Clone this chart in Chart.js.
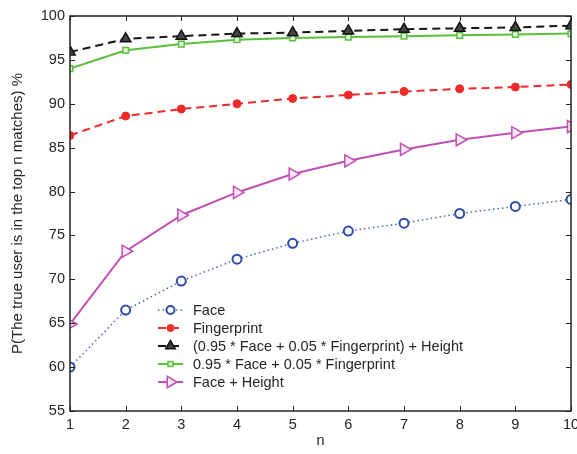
<!DOCTYPE html>
<html>
<head>
<meta charset="utf-8">
<script src="https://cdn.jsdelivr.net/npm/chart.js@4.4.1/dist/chart.umd.min.js"></script>
<style>
  html, body { margin: 0; padding: 0; background: #fff; overflow: hidden; }
  #wrap { width: 600px; height: 454px; }
</style>
</head>
<body>
<div id="wrap"><canvas id="chart" width="600" height="454"></canvas></div>
<script>
const nValues = [1, 2, 3, 4, 5, 6, 7, 8, 9, 10];
const face = [60.0, 66.5, 69.8, 72.3, 74.1, 75.5, 76.4, 77.5, 78.3, 79.1];
const fingerprint = [86.4, 88.6, 89.4, 90.0, 90.6, 91.0, 91.4, 91.7, 91.9, 92.2];
const fusionHeight = [95.9, 97.4, 97.7, 98.0, 98.1, 98.3, 98.5, 98.6, 98.7, 98.9];
const fusion = [94.0, 96.1, 96.8, 97.3, 97.5, 97.6, 97.7, 97.8, 97.9, 98.0];
const faceHeight = [64.9, 73.2, 77.3, 79.9, 82.0, 83.5, 84.8, 85.9, 86.7, 87.4];
const seriesNames = [
  'Face',
  'Fingerprint',
  '(0.95 * Face + 0.05 * Fingerprint) + Height',
  '0.95 * Face + 0.05 * Fingerprint',
  'Face + Height'
];

const FONT = '"Liberation Sans", Arial, Helvetica, sans-serif';
const TEXT = '#262626';

function pts(values) {
  return values.map((v, i) => ({ x: nValues[i], y: v }));
}

const datasets = [
  {
    label: seriesNames[0], data: pts(face),
    borderColor: '#4a63b8', borderWidth: 1.5, borderDash: [1.5, 3],
    pointStyle: 'circle', pointRadius: 4.5, pointBorderWidth: 2,
    pointBorderColor: '#2f4aa8', pointBackgroundColor: '#fff'
  },
  {
    label: seriesNames[1], data: pts(fingerprint),
    borderColor: '#ee2a2a', borderWidth: 2, borderDash: [8, 5],
    pointStyle: 'circle', pointRadius: 4, pointBorderWidth: 1,
    pointBorderColor: '#ee2a2a', pointBackgroundColor: '#ee2a2a'
  },
  {
    label: seriesNames[2], data: pts(fusionHeight),
    borderColor: '#151515', borderWidth: 2, borderDash: [8, 5],
    pointStyle: 'triangle', pointRadius: 6, pointBorderWidth: 1.5,
    pointBorderColor: '#111', pointBackgroundColor: '#444'
  },
  {
    label: seriesNames[3], data: pts(fusion),
    borderColor: '#5cbf3c', borderWidth: 2,
    pointStyle: 'rect', pointRadius: 4, pointBorderWidth: 1.5,
    pointBorderColor: '#5cbf3c', pointBackgroundColor: '#e6f5e0'
  },
  {
    label: seriesNames[4], data: pts(faceHeight),
    borderColor: '#c04fb4', borderWidth: 2,
    pointStyle: 'triangle', pointRotation: 90, pointRadius: 7, pointBorderWidth: 1.5,
    pointBorderColor: '#c04fb4', pointBackgroundColor: '#f6e6f4'
  }
];
datasets.forEach(d => { d.fill = false; d.tension = 0; });

// MATLAB style box, inward ticks and legend inside the axes
const matlabAxes = {
  id: 'matlabAxes',
  afterDatasetsDraw(chart) {
    const { ctx, chartArea: a, scales } = chart;
    ctx.save();
    ctx.strokeStyle = '#222';
    ctx.lineWidth = 1;
    scales.x.ticks.forEach(t => {
      const x = Math.round(scales.x.getPixelForValue(t.value)) + 0.5;
      ctx.beginPath();
      ctx.moveTo(x, a.bottom); ctx.lineTo(x, a.bottom - 5);
      ctx.moveTo(x, a.top); ctx.lineTo(x, a.top + 5);
      ctx.stroke();
    });
    scales.y.ticks.forEach(t => {
      const y = Math.round(scales.y.getPixelForValue(t.value)) + 0.5;
      ctx.beginPath();
      ctx.moveTo(a.left, y); ctx.lineTo(a.left + 5, y);
      ctx.moveTo(a.right, y); ctx.lineTo(a.right - 5, y);
      ctx.stroke();
    });
    ctx.lineWidth = 1.5;
    ctx.strokeRect(a.left, a.top, a.right - a.left, a.bottom - a.top);

    // legend
    const x0 = 158, x1 = 183, textX = 193;
    ctx.font = '14.5px ' + FONT;
    ctx.textBaseline = 'middle';
    ctx.fillStyle = TEXT;
    chart.data.datasets.forEach((d, i) => {
      const y = 310 + i * 18;
      ctx.save();
      ctx.strokeStyle = d.borderColor;
      ctx.lineWidth = d.borderWidth;
      ctx.setLineDash(d.borderDash || []);
      ctx.beginPath();
      ctx.moveTo(x0, y); ctx.lineTo(x1, y);
      ctx.stroke();
      ctx.setLineDash([]);
      ctx.strokeStyle = d.pointBorderColor;
      ctx.fillStyle = d.pointBackgroundColor;
      ctx.lineWidth = d.pointBorderWidth;
      Chart.helpers.drawPoint(ctx, {
        pointStyle: d.pointStyle,
        rotation: d.pointRotation || 0,
        radius: d.pointRadius - 0.5,
        borderWidth: d.pointBorderWidth
      }, (x0 + x1) / 2, y);
      ctx.restore();
      ctx.fillText(d.label, textX, y + 1);
    });
    ctx.restore();
  }
};

new Chart(document.getElementById('chart'), {
  type: 'line',
  data: { datasets },
  options: {
    responsive: false,
    animation: false,
    layout: { padding: { top: 16, right: 29, left: 0, bottom: 0 } },
    plugins: { legend: { display: false }, tooltip: { enabled: false } },
    scales: {
      x: {
        type: 'linear', min: 1, max: 10,
        grid: { display: false, drawTicks: false },
        border: { display: false },
        ticks: { stepSize: 1, padding: 5, color: TEXT, font: { family: FONT, size: 14.5 } },
        title: { display: true, text: 'n', color: TEXT, font: { family: FONT, size: 14.5 }, padding: { top: 0, bottom: 4 } },
        afterFit(scale) { scale.height = 43; }
      },
      y: {
        min: 55, max: 100,
        grid: { display: false, drawTicks: false },
        border: { display: false },
        ticks: { stepSize: 5, padding: 5, color: TEXT, font: { family: FONT, size: 14.5 } },
        title: { display: true, text: 'P(The true user is in the top n matches) %', color: TEXT, font: { family: FONT, size: 15 }, padding: { top: 9, bottom: 0 } },
        afterFit(scale) { scale.width = 70; }
      }
    }
  },
  plugins: [matlabAxes]
});
</script>
</body>
</html>
